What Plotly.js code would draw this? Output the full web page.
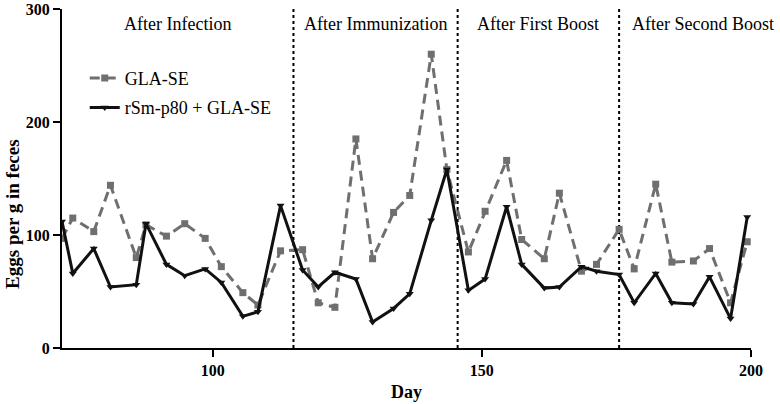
<!DOCTYPE html>
<html>
<head>
<meta charset="utf-8">
<script src="https://cdn.plot.ly/plotly-3.0.1.min.js"></script>
<style>html,body{margin:0;padding:0;background:#fff;}#chart{width:780px;height:404px;}</style>
</head>
<body>
<div id="chart"></div>
<script>
// Sampling days
const days = [72, 74.0, 77.9, 81.0, 85.8, 87.6, 91.4, 94.8, 98.6, 101.6, 105.6, 108.4, 112.6,
  116.7, 119.6, 122.7, 126.6, 129.7, 133.6, 136.6, 140.6, 143.5, 147.5, 150.6, 154.6, 157.4,
  161.6, 164.4, 168.5, 171.3, 175.5, 178.3, 182.3, 185.3, 189.3, 192.3, 196.2, 199.3];
// Eggs per g in feces
const glaSE = [97, 115, 103, 144, 80, 109, 99, 110, 97, 72, 49, 38, 86,
  87, 40, 36, 185, 79, 120, 135, 260, 158, 85, 121, 166, 96,
  79, 137, 68, 74, 105, 70, 145, 76, 77, 88, 40, 94];
const rSmP80 = [112, 66, 88, 54, 56, 110, 74, 64, 70, 58, 28, 32, 126,
  69, 54, 67, 61, 23, 35, 48, 113, 158, 51, 61, 125, 74,
  53, 54, 72, 68, 65, 40, 66, 40, 39, 63, 26, 116];
const seriesNames = ["GLA-SE", "rSm-p80 + GLA-SE"];
// Phase boundaries (days) and phase labels
const phaseBounds = [115, 145.5, 175.5];
const phaseLabels = ["After Infection", "After Immunization", "After First Boost", "After Second Boost"];
const phaseLabelDays = [93.5, 130.3, 160.5, 191];
const xTicks = [100, 150, 200];
const yTicks = [0, 100, 200, 300];

const serif = "Liberation Serif, Times New Roman, serif";

const traces = [
  {x: days, y: glaSE, name: seriesNames[0], type: "scatter", mode: "lines+markers",
   legendgroup: "a",
   line: {color: "#6f6f6f", width: 3, dash: "10px,6px"},
   marker: {symbol: "square", size: 7, color: "#6f6f6f"}},
  {x: days, y: rSmP80, name: seriesNames[1], type: "scatter", mode: "lines+markers",
   legendgroup: "b",
   line: {color: "#111111", width: 3},
   marker: {symbol: "triangle-down", size: 7, color: "#111111"}}
];

const shapes = phaseBounds.map(d => ({
  type: "line", xref: "x", yref: "y", x0: d, x1: d, y0: 0, y1: 300,
  line: {color: "#000", width: 2, dash: "dot"}, layer: "below"
}));

const annotations = phaseLabels.map((t, i) => ({
  text: t, x: phaseLabelDays[i], y: 287, xref: "x", yref: "y",
  showarrow: false, xanchor: "center", yanchor: "middle",
  font: {family: serif, size: 18, color: "#000"}
}));
annotations.push({
  text: "<b>Eggs per g in feces</b>", textangle: -90, xref: "paper", yref: "y",
  x: -0.072, y: 119, xanchor: "center", yanchor: "middle", showarrow: false,
  font: {family: serif, size: 19, color: "#000"}
});

const layout = {
  width: 780, height: 404,
  margin: {l: 62, r: 29, t: 9, b: 56},
  paper_bgcolor: "#fff", plot_bgcolor: "#fff",
  showlegend: true,
  legend: {x: 0.033, y: 0.85, xanchor: "left", yanchor: "top",
    bgcolor: "rgba(0,0,0,0)", tracegroupgap: 3, traceorder: "grouped",
    font: {family: serif, size: 18, color: "#000"}},
  xaxis: {range: [72, 200], tickvals: xTicks, ticktext: xTicks.map(v => "<b>" + v + "</b>"),
    showgrid: false, zeroline: false, showline: true, linecolor: "#000", linewidth: 2,
    ticks: "outside", ticklen: 7, tickwidth: 2, tickcolor: "#000",
    ticklabeloverflow: "allow",
    tickfont: {family: serif, size: 16, color: "#000"},
    title: {text: "<b>Day</b>", font: {family: serif, size: 18, color: "#000"}, standoff: 7}},
  yaxis: {range: [0, 300], tickvals: yTicks, ticktext: yTicks.map(v => "<b>" + v + "</b>"),
    showgrid: false, zeroline: false, showline: true, linecolor: "#000", linewidth: 2,
    ticks: "outside", ticklen: 7, tickwidth: 2, tickcolor: "#000",
    ticklabeloverflow: "allow",
    tickfont: {family: serif, size: 16, color: "#000"}},
  shapes: shapes,
  annotations: annotations
};

Plotly.newPlot("chart", traces, layout, {displayModeBar: false, staticPlot: true});
</script>
</body>
</html>
